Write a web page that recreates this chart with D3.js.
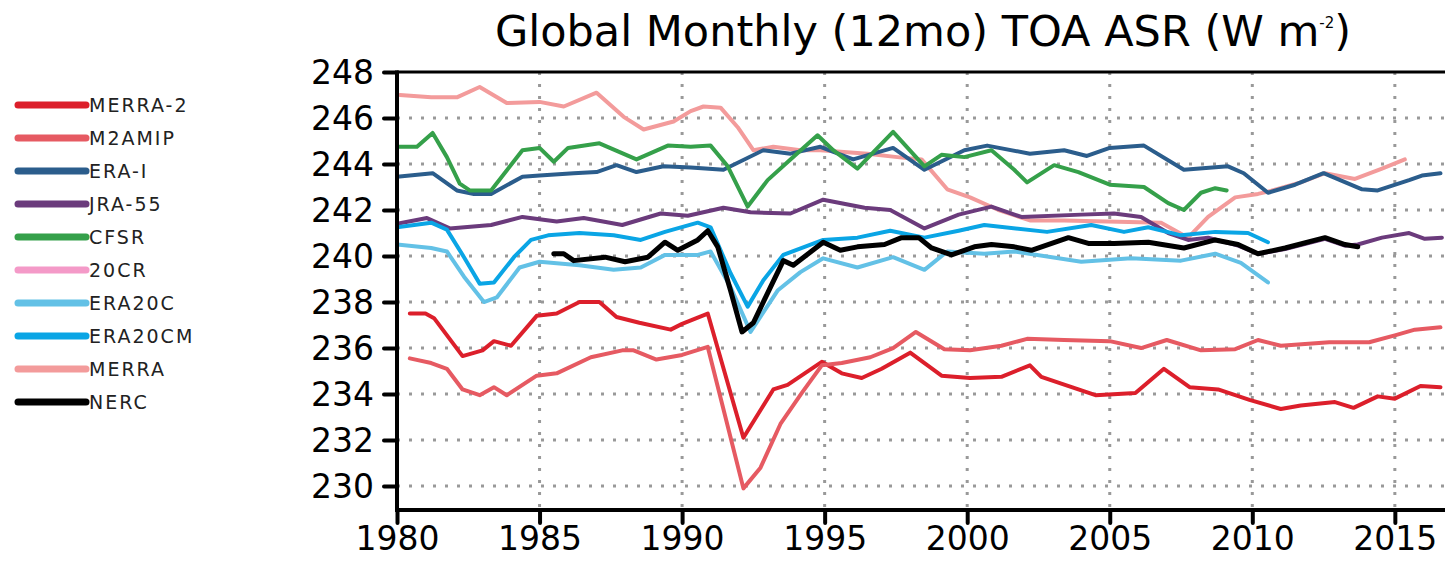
<!DOCTYPE html>
<html>
<head>
<meta charset="utf-8">
<script src="https://cdn.jsdelivr.net/npm/d3@7"></script>
<style>
  body { margin: 0; background: #fff; }
  text { font-family: "DejaVu Sans", sans-serif; }
</style>
</head>
<body>
<div id="chart"></div>
<script>
var merra2 = [[1980.45,237.5],[1981.0,237.5],[1981.3,237.3],[1982.3,235.65],[1983.0,235.9],[1983.4,236.3],[1984.0,236.1],[1984.9,237.4],[1985.6,237.5],[1986.4,238.0],[1987.1,238.0],[1987.7,237.35],[1988.5,237.1],[1989.6,236.8],[1990.0,237.05],[1990.9,237.5],[1992.15,232.1],[1993.2,234.2],[1993.7,234.4],[1994.9,235.4],[1995.6,234.9],[1996.3,234.7],[1997.0,235.1],[1998.0,235.8],[1999.1,234.8],[2000.1,234.7],[2001.2,234.75],[2002.2,235.25],[2002.6,234.75],[2003.3,234.45],[2004.5,233.95],[2005.9,234.05],[2006.9,235.1],[2007.8,234.3],[2008.8,234.2],[2009.9,233.75],[2011.0,233.35],[2011.7,233.5],[2012.9,233.65],[2013.55,233.4],[2014.4,233.9],[2015.0,233.8],[2015.9,234.35],[2016.6,234.3]];
var m2amip = [[1980.45,235.55],[1981.2,235.35],[1981.75,235.1],[1982.3,234.2],[1982.9,233.95],[1983.4,234.3],[1983.85,233.95],[1984.9,234.8],[1985.6,234.9],[1986.8,235.6],[1987.9,235.9],[1988.3,235.9],[1989.1,235.5],[1990.0,235.7],[1990.9,236.05],[1992.15,229.9],[1992.75,230.8],[1993.45,232.7],[1994.2,234.05],[1994.9,235.25],[1995.6,235.35],[1996.6,235.6],[1997.4,236.0],[1998.2,236.7],[1999.2,235.95],[2000.1,235.9],[2001.2,236.1],[2002.1,236.4],[2003.4,236.35],[2005.0,236.3],[2006.1,236.0],[2007.0,236.35],[2008.2,235.9],[2009.4,235.95],[2010.2,236.35],[2011.0,236.1],[2012.7,236.25],[2014.1,236.25],[2015.0,236.55],[2015.7,236.8],[2016.6,236.9]];
var eraI = [[1980.0,243.45],[1981.25,243.6],[1982.1,242.85],[1982.7,242.7],[1983.3,242.7],[1984.4,243.45],[1985.0,243.5],[1986.2,243.6],[1987.0,243.65],[1987.7,243.95],[1988.4,243.65],[1989.35,243.9],[1990.3,243.85],[1991.45,243.75],[1992.85,244.6],[1993.8,244.45],[1994.85,244.75],[1996.0,244.2],[1997.4,244.7],[1998.5,243.75],[1999.9,244.6],[2000.7,244.8],[2002.2,244.45],[2003.4,244.6],[2004.2,244.35],[2005.0,244.7],[2006.2,244.8],[2007.6,243.75],[2009.15,243.9],[2009.7,243.6],[2010.55,242.75],[2011.5,243.1],[2012.5,243.6],[2013.85,242.9],[2014.4,242.85],[2015.5,243.3],[2015.95,243.5],[2016.6,243.6]];
var jra55 = [[1980.0,241.4],[1981.05,241.65],[1981.85,241.2],[1983.3,241.35],[1984.4,241.7],[1985.6,241.5],[1986.55,241.65],[1987.9,241.35],[1989.25,241.85],[1990.2,241.75],[1991.45,242.1],[1992.4,241.9],[1993.8,241.85],[1994.95,242.45],[1996.4,242.1],[1997.3,242.0],[1998.5,241.2],[1999.7,241.8],[2000.85,242.15],[2001.9,241.7],[2004.0,241.8],[2005.15,241.85],[2006.1,241.7],[2007.05,241.0],[2007.75,240.7],[2008.45,240.8],[2009.5,240.45],[2010.2,240.1],[2011.15,240.3],[2012.55,240.75],[2013.25,240.45],[2013.7,240.5],[2014.55,240.8],[2015.5,241.0],[2016.05,240.75],[2016.65,240.8]];
var cfsr = [[1980.0,244.75],[1980.7,244.75],[1981.25,245.35],[1981.75,244.3],[1982.2,243.15],[1982.55,242.85],[1983.3,242.85],[1984.4,244.6],[1985.0,244.7],[1985.5,244.1],[1986.0,244.7],[1987.1,244.9],[1988.4,244.2],[1989.5,244.8],[1990.3,244.75],[1991.0,244.8],[1991.6,243.9],[1992.3,242.15],[1993.0,243.3],[1993.8,244.2],[1994.75,245.25],[1995.3,244.6],[1996.15,243.8],[1997.4,245.4],[1998.5,243.9],[1999.1,244.4],[1999.9,244.3],[2000.85,244.6],[2001.65,243.75],[2002.1,243.2],[2003.05,243.95],[2003.9,243.65],[2005.0,243.1],[2006.2,243.0],[2007.05,242.3],[2007.6,242.0],[2008.2,242.75],[2008.7,242.95],[2009.1,242.85]];
var cr20 = [];
var era20c = [[1980.0,240.5],[1981.2,240.35],[1981.75,240.2],[1982.35,239.1],[1983.05,238.0],[1983.5,238.2],[1984.3,239.5],[1985.0,239.75],[1986.4,239.6],[1987.6,239.4],[1988.55,239.5],[1989.4,240.05],[1990.55,240.05],[1991.0,240.2],[1991.7,238.65],[1992.4,236.7],[1993.35,238.5],[1994.15,239.3],[1994.95,239.9],[1996.15,239.5],[1997.4,239.95],[1998.5,239.4],[1999.3,240.2],[2000.6,240.1],[2001.65,240.2],[2004.0,239.75],[2005.75,239.9],[2007.5,239.8],[2008.7,240.1],[2009.6,239.7],[2010.55,238.85]];
var era20cm = [[1980.0,241.25],[1981.2,241.45],[1981.75,241.15],[1982.35,239.95],[1982.9,238.8],[1983.4,238.85],[1984.1,239.95],[1984.7,240.7],[1985.3,240.9],[1986.4,241.0],[1987.6,240.9],[1988.55,240.7],[1989.4,241.05],[1990.55,241.45],[1991.0,241.25],[1991.7,239.25],[1992.3,237.8],[1992.85,238.95],[1993.55,240.05],[1994.95,240.7],[1996.15,240.8],[1997.3,241.1],[1998.5,240.8],[1999.7,241.1],[2000.6,241.35],[2002.8,241.05],[2004.35,241.35],[2005.5,241.05],[2006.35,241.25],[2007.5,240.9],[2008.7,241.05],[2009.85,241.0],[2010.55,240.6]];
var merra = [[1980.1,247.0],[1981.2,246.9],[1982.1,246.9],[1982.9,247.35],[1983.85,246.65],[1985.0,246.7],[1985.85,246.5],[1987.0,247.1],[1987.95,246.05],[1988.65,245.5],[1989.7,245.85],[1990.3,246.3],[1990.75,246.5],[1991.35,246.45],[1991.95,245.6],[1992.5,244.6],[1993.2,244.75],[1994.15,244.6],[1994.85,244.6],[1996.5,244.45],[1997.55,244.3],[1998.4,244.2],[1999.3,242.9],[2000.1,242.55],[2001.1,242.0],[2002.2,241.55],[2003.4,241.55],[2006.8,241.45],[2007.75,240.8],[2008.45,241.7],[2009.4,242.55],[2010.2,242.7],[2010.55,242.8],[2011.7,243.2],[2012.55,243.6],[2013.6,243.35],[2014.55,243.8],[2015.35,244.2]];
var nerc = [[1985.5,240.1],[1985.85,240.1],[1986.2,239.8],[1987.3,239.95],[1988.0,239.75],[1988.8,239.95],[1989.4,240.6],[1989.85,240.25],[1990.55,240.7],[1990.9,241.1],[1991.25,240.4],[1991.7,238.5],[1992.1,236.7],[1992.5,237.1],[1993.1,238.65],[1993.55,239.8],[1993.9,239.6],[1994.95,240.6],[1995.55,240.25],[1996.15,240.4],[1997.1,240.5],[1997.7,240.8],[1998.3,240.8],[1998.75,240.35],[1999.45,240.05],[2000.25,240.4],[2000.85,240.5],[2001.65,240.4],[2002.25,240.25],[2003.55,240.8],[2004.25,240.55],[2005.15,240.55],[2006.35,240.6],[2007.6,240.35],[2008.7,240.7],[2009.5,240.5],[2010.2,240.1],[2011.15,240.35],[2012.55,240.8],[2013.25,240.5],[2013.7,240.4]];

var seriesNames = ["MERRA-2","M2AMIP","ERA-I","JRA-55","CFSR","20CR","ERA20C","ERA20CM","MERRA","NERC"];
var seriesData = [merra2, m2amip, eraI, jra55, cfsr, cr20, era20c, era20cm, merra, nerc];
var seriesColors = ["#dc1f2b","#e65a62","#2b5d8c","#6b3b7c","#35a04a","#f49ac8","#63c1e6","#0aa5e5","#f39b9b","#000000"];
// MERRA sits underneath the rest
var drawOrder = [8,0,1,2,3,4,5,6,7,9];

var yTicks = [230,232,234,236,238,240,242,244,246,248];
var xTicks = [1980,1985,1990,1995,2000,2005,2010,2015];

var width = 1445, height = 564;
var svg = d3.select("#chart").append("svg")
  .attr("width", width)
  .attr("height", height);

var plotLeft = 397, plotTop = 72, plotBottom = 510;

var x = d3.scaleLinear().domain([1980, 2017]).range([plotLeft, plotLeft + 37 * 28.51]);
var y = d3.scaleLinear().domain([228.96, 248]).range([plotBottom, plotTop]);

svg.append("clipPath").attr("id", "plotclip")
  .append("rect")
  .attr("x", plotLeft).attr("y", plotTop)
  .attr("width", x(2017) - plotLeft).attr("height", plotBottom - plotTop);

//dotted grid
var grid = svg.append("g");
grid.selectAll(".hg")
  .data(yTicks.filter(function(d){ return d < 248; }))
  .enter().append("line")
  .attr("x1", plotLeft).attr("x2", width)
  .attr("y1", function(d){ return y(d); }).attr("y2", function(d){ return y(d); })
  .attr("stroke", "#999").attr("stroke-width", 3).attr("stroke-dasharray", "3,9");
grid.selectAll(".vg")
  .data(xTicks.filter(function(d){ return d > 1980; }))
  .enter().append("line")
  .attr("x1", function(d){ return x(d); }).attr("x2", function(d){ return x(d); })
  .attr("y1", plotTop).attr("y2", plotBottom)
  .attr("stroke", "#999").attr("stroke-width", 3).attr("stroke-dasharray", "3,9");

//lines
var line = d3.line()
  .x(function(d){ return x(d[0]); })
  .y(function(d){ return y(d[1]); });

var lines = svg.append("g").attr("clip-path", "url(#plotclip)");
drawOrder.forEach(function(i){
  if (seriesData[i].length == 0) return;
  lines.append("path")
    .datum(seriesData[i])
    .attr("fill", "none")
    .attr("stroke", seriesColors[i])
    .attr("stroke-width", i == 9 ? 5 : 4)
    .attr("stroke-linejoin", "round")
    .attr("stroke-linecap", "round")
    .attr("d", line);
});

//spines
svg.append("line").attr("x1", plotLeft).attr("x2", width).attr("y1", plotTop).attr("y2", plotTop)
  .attr("stroke", "#000").attr("stroke-width", 3);
svg.append("line").attr("x1", plotLeft).attr("x2", width).attr("y1", plotBottom).attr("y2", plotBottom)
  .attr("stroke", "#000").attr("stroke-width", 4);
svg.append("line").attr("x1", plotLeft).attr("x2", plotLeft).attr("y1", plotTop - 1.5).attr("y2", plotBottom + 2)
  .attr("stroke", "#000").attr("stroke-width", 4);

//axes
var yAxis = d3.axisLeft(y).tickValues(yTicks).tickSize(13).tickPadding(10).tickFormat(d3.format("d"));
var xAxis = d3.axisBottom(x).tickValues(xTicks).tickSize(13).tickPadding(4).tickFormat(d3.format("d"));

var gy = svg.append("g").attr("transform", "translate(" + plotLeft + ",0)").call(yAxis);
var gx = svg.append("g").attr("transform", "translate(0," + plotBottom + ")").call(xAxis);
[gy, gx].forEach(function(g){
  g.select(".domain").remove();
  g.selectAll(".tick line").attr("stroke", "#000").attr("stroke-width", 4).attr("stroke-linecap", "round");
  g.selectAll(".tick text")
    .attr("fill", "#000")
    .style("font-family", "DejaVu Sans")
    .style("font-size", "33px");
});
gy.selectAll(".tick text").attr("dy", "0.36em");
gx.selectAll(".tick text").attr("dy", "0.71em");

//title
var title = svg.append("text")
  .attr("x", 923).attr("y", 46)
  .attr("text-anchor", "middle")
  .style("font-size", "43px")
  .attr("fill", "#000");
title.append("tspan").text("Global Monthly (12mo) TOA ASR (W m");
title.append("tspan").attr("dy", -18).style("font-size", "15px").text("-2");
title.append("tspan").attr("dy", 18).text(")");

//legend
var legend = svg.append("g");
seriesNames.forEach(function(name, i){
  var ly = 105 + i * 33;
  legend.append("line")
    .attr("x1", 18).attr("x2", 86).attr("y1", ly).attr("y2", ly)
    .attr("stroke", seriesColors[i]).attr("stroke-width", 7).attr("stroke-linecap", "round");
  legend.append("text")
    .attr("x", 89).attr("y", ly).attr("dy", "0.36em")
    .style("font-size", "19px").style("letter-spacing", "2px")
    .attr("fill", "#222")
    .text(name);
});
</script>
</body>
</html>
